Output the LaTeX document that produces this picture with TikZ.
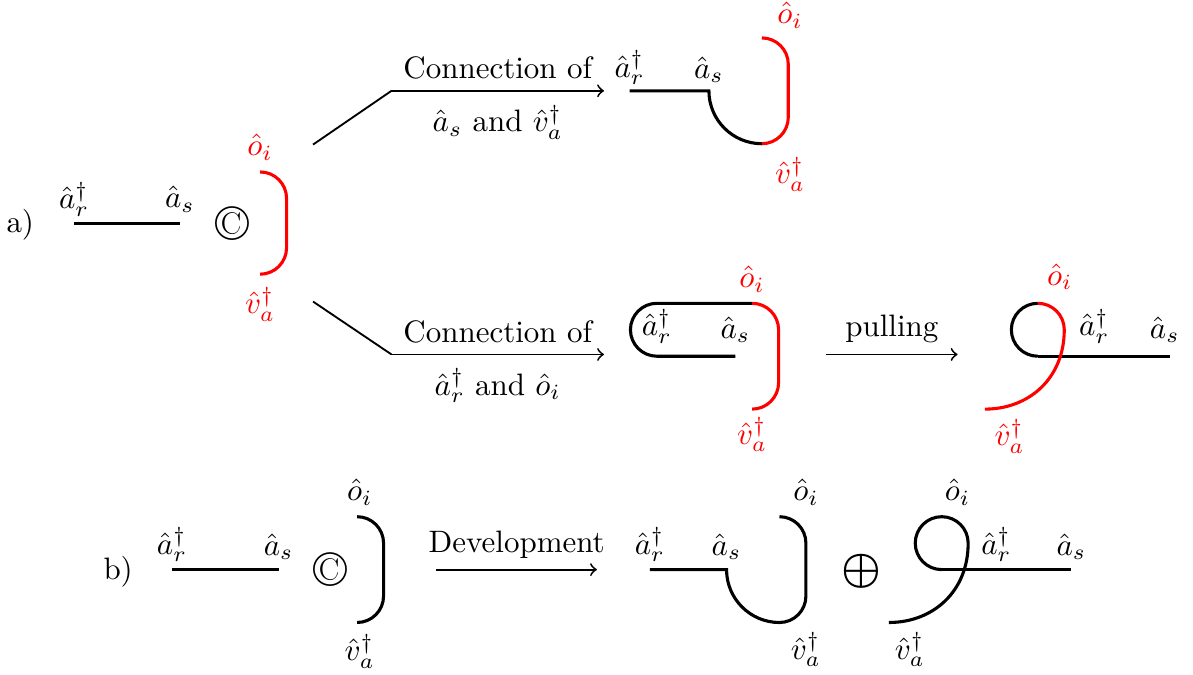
\documentclass[tikz,border=0pt]{standalone}
\usetikzlibrary{positioning}
\begin{document}
\begin{tikzpicture}[strand/.style={line width=1pt},
  redstrand/.style={line width=1pt,red},
  arr/.style={semithick,->},
  bigsym/.style={font=\fontsize{16}{18}\selectfont}]
  \useasboundingbox (0,0) rectangle (13.53,7.65);
  % Panel (a): first row
  \node (lab-a) at (0.23,5.1) {a)};
  \begin{scope}[shift={(0.84,5.12)}]
    \draw[strand] (0,0) -- (1.2,0);
    \node (a-ar) at (0,0.27) {$\hat a_r^\dagger$};
    \node (a-as) at (1.2,0.27) {$\hat a_s$};
    \node[bigsym] (a-c) at (1.8,0) {\copyright};
  \end{scope}
  \begin{scope}[shift={(2.95,5.12)}]
    \draw[redstrand] (0,0.58) arc[start angle=90,end angle=0,radius=0.3] -- (0.3,-0.28)
      arc[start angle=0,end angle=-90,radius=0.3];
    \node[red] (a-oi) at (0,0.86) {$\hat o_i$};
    \node[red] (a-va) at (0,-0.92) {$\hat v_a^\dagger$};
  \end{scope}
  % branches
  \coordinate (up-start) at (3.55,6.01);
  \coordinate (up-knee) at (4.44,6.62);
  \coordinate (up-end) at (6.85,6.62);
  \draw[semithick] (up-start) -- (up-knee);
  \draw[arr] (up-knee) -- (up-end)
    node[midway,above] (up-t1) {Connection of}
    node[midway,below=1pt] (up-t2) {$\hat a_s$ and $\hat v_a^\dagger$};
  \coordinate (lo-start) at (3.55,4.23);
  \coordinate (lo-knee) at (4.44,3.63);
  \coordinate (lo-end) at (6.85,3.63);
  \draw[semithick] (lo-start) -- (lo-knee);
  \draw[arr] (lo-knee) -- (lo-end)
    node[midway,above] (lo-t1) {Connection of}
    node[midway,below=1pt] (lo-t2) {$\hat a_r^\dagger$ and $\hat o_i$};
  % upper result
  \begin{scope}[shift={(7.14,6.62)}]
    \draw[strand] (0,0) -- (0.9,0) arc[start angle=180,end angle=270,radius=0.6];
    \draw[redstrand] (1.5,-0.6) arc[start angle=270,end angle=360,radius=0.3] -- ++(0,0.6)
      arc[start angle=0,end angle=90,radius=0.3];
    \node (u-ar) at (0,0.26) {$\hat a_r^\dagger$};
    \node (u-as) at (0.9,0.24) {$\hat a_s$};
    \node[red] (u-oi) at (1.82,0.86) {$\hat o_i$};
    \node[red] (u-va) at (1.82,-0.95) {$\hat v_a^\dagger$};
  \end{scope}
  % lower result
  \begin{scope}[shift={(7.45,3.61)}]
    \draw[strand] (0.89,0) -- (0,0) arc[start angle=270,end angle=90,radius=0.3] -- (1.08,0.6);
    \draw[redstrand] (1.08,0.6) arc[start angle=90,end angle=0,radius=0.3] -- ++(0,-0.6)
      arc[start angle=0,end angle=-90,radius=0.3];
    \node (l-ar) at (0,0.34) {$\hat a_r^\dagger$};
    \node (l-as) at (0.89,0.30) {$\hat a_s$};
    \node[red] (l-oi) at (1.08,0.87) {$\hat o_i$};
    \node[red] (l-va) at (1.08,-0.89) {$\hat v_a^\dagger$};
  \end{scope}
  \coordinate (pull-start) at (9.37,3.63);
  \coordinate (pull-end) at (10.86,3.63);
  \draw[arr] (pull-start) -- (pull-end) node[midway,above] (pull-t) {pulling};
  % pulled result
  \begin{scope}[shift={(11.77,3.61)}]
    \draw[strand] (0,0) arc[start angle=270,end angle=90,radius=0.3];
    \draw[strand] (0,0) -- (1.5,0);
    \draw[redstrand] (0,0.6) arc[start angle=90,end angle=0,radius=0.3]
      .. controls +(0,-0.55) and +(0.5,0) .. (-0.6,-0.6);
    \node[red] (p-oi) at (0.25,0.9) {$\hat o_i$};
    \node (p-ar) at (0.64,0.34) {$\hat a_r^\dagger$};
    \node (p-as) at (1.44,0.30) {$\hat a_s$};
    \node[red] (p-va) at (-0.32,-0.91) {$\hat v_a^\dagger$};
  \end{scope}
  % Panel (b): development
  \node (lab-b) at (1.34,1.17) {b)};
  \begin{scope}[shift={(1.95,1.19)}]
    \draw[strand] (0,0) -- (1.21,0);
    \node (b-ar) at (0,0.28) {$\hat a_r^\dagger$};
    \node (b-as) at (1.21,0.26) {$\hat a_s$};
    \node[bigsym] (b-c) at (1.8,0) {\copyright};
  \end{scope}
  \begin{scope}[shift={(4.05,1.19)}]
    \draw[strand] (0,0.6) arc[start angle=90,end angle=0,radius=0.3] -- (0.3,-0.3)
      arc[start angle=0,end angle=-90,radius=0.3];
    \node (b-oi) at (0.03,0.88) {$\hat o_i$};
    \node (b-va) at (0.03,-0.93) {$\hat v_a^\dagger$};
  \end{scope}
  \coordinate (dev-start) at (4.95,1.19);
  \coordinate (dev-end) at (6.77,1.19);
  \draw[arr] (dev-start) -- (dev-end) node[midway,above] (dev-t) {Development};
  \begin{scope}[shift={(7.37,1.19)}]
    \draw[strand] (0,0) -- (0.87,0) arc[start angle=180,end angle=270,radius=0.6]
      arc[start angle=270,end angle=360,radius=0.3] -- ++(0,0.6)
      arc[start angle=0,end angle=90,radius=0.3];
    \node (r1-ar) at (0,0.28) {$\hat a_r^\dagger$};
    \node (r1-as) at (0.87,0.26) {$\hat a_s$};
    \node (r1-oi) at (1.77,0.88) {$\hat o_i$};
    \node (r1-va) at (1.77,-0.91) {$\hat v_a^\dagger$};
  \end{scope}
  \node[font=\Large\boldmath] (plus) at (9.77,1.17) {$\oplus$};
  \begin{scope}[shift={(10.68,1.19)}]
    \draw[strand] (0,0) arc[start angle=270,end angle=90,radius=0.3]
      arc[start angle=90,end angle=0,radius=0.3]
      .. controls +(0,-0.55) and +(0.5,0) .. (-0.6,-0.6);
    \draw[strand] (-0.03,0) -- (1.47,0);
    \node (r2-oi) at (0.18,0.88) {$\hat o_i$};
    \node (r2-ar) at (0.62,0.28) {$\hat a_r^\dagger$};
    \node (r2-as) at (1.47,0.26) {$\hat a_s$};
    \node (r2-va) at (-0.36,-0.91) {$\hat v_a^\dagger$};
  \end{scope}
\end{tikzpicture}
\end{document}
